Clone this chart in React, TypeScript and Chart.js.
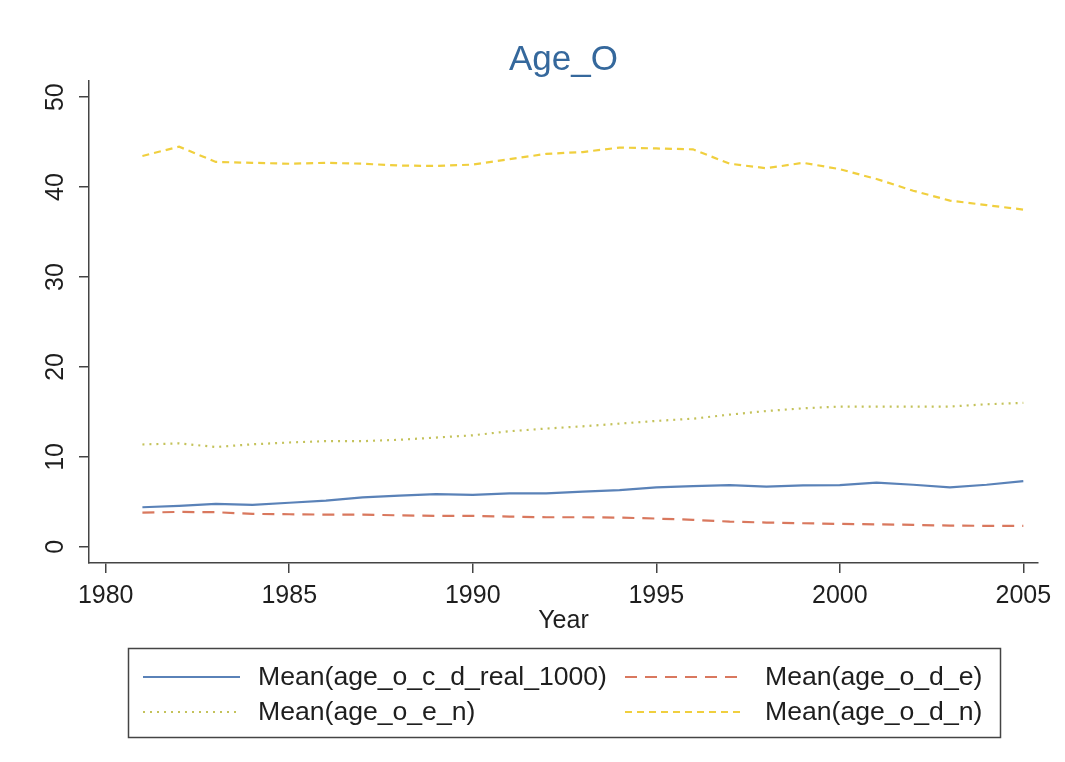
import React, { useEffect, useRef } from "react";
import { Chart, registerables } from "chart.js";

Chart.register(...registerables);

const years = [1981, 1982, 1983, 1984, 1985, 1986, 1987, 1988, 1989, 1990, 1991, 1992, 1993, 1994, 1995, 1996, 1997, 1998, 1999, 2000, 2001, 2002, 2003, 2004, 2005];
const ageOcdReal1000 = [4.4, 4.55, 4.77, 4.66, 4.9, 5.13, 5.5, 5.7, 5.85, 5.77, 5.95, 5.95, 6.13, 6.3, 6.6, 6.75, 6.87, 6.7, 6.84, 6.87, 7.13, 6.9, 6.6, 6.9, 7.3];
const ageOdE = [3.8, 3.88, 3.85, 3.66, 3.62, 3.58, 3.58, 3.5, 3.44, 3.44, 3.36, 3.29, 3.29, 3.25, 3.14, 3.0, 2.8, 2.7, 2.62, 2.55, 2.5, 2.44, 2.36, 2.33, 2.33];
const ageOeN = [11.38, 11.5, 11.1, 11.4, 11.6, 11.75, 11.75, 11.9, 12.15, 12.4, 12.85, 13.15, 13.4, 13.7, 14.0, 14.25, 14.7, 15.1, 15.4, 15.6, 15.6, 15.6, 15.6, 15.85, 16.0];
const ageOdN = [43.46, 44.5, 42.8, 42.7, 42.6, 42.7, 42.6, 42.4, 42.35, 42.5, 43.1, 43.7, 43.9, 44.4, 44.3, 44.2, 42.6, 42.1, 42.7, 42.0, 40.9, 39.6, 38.5, 38.0, 37.5];

const xTickValues = [1980, 1985, 1990, 1995, 2000, 2005];
const yTickValues = [0, 10, 20, 30, 40, 50];
const seriesLabels = ["Mean(age_o_c_d_real_1000)", "Mean(age_o_d_e)", "Mean(age_o_e_n)", "Mean(age_o_d_n)"];
const titleText = "Age_O";
const xTitle = "Year";

const FONT = '"Liberation Sans", Arial, sans-serif';
const TEXT = "#1e1e1e";
const AXIS = "#444444";

const seriesStyles = [
  { color: "#5a82b8", dash: [] as number[], width: 2.2 },
  { color: "#d9785e", dash: [12, 8], width: 2.2 },
  { color: "#c4c25a", dash: [2, 5], width: 2.2 },
  { color: "#f0cf3e", dash: [7, 5], width: 2.2 },
];

const legendPlugin = {
  id: "boxLegend",
  afterDraw(chart: any) {
    const ctx = chart.ctx as CanvasRenderingContext2D;
    ctx.save();
    ctx.strokeStyle = AXIS;
    ctx.lineWidth = 1.5;
    ctx.strokeRect(128.5, 648.5, 872, 89);
    const cols = [
      { x0: 143, x1: 240, tx: 258 },
      { x0: 625, x1: 745, tx: 765 },
    ];
    const rows = [678, 713];
    ctx.font = `26.6px ${FONT}`;
    ctx.textBaseline = "middle";
    ctx.textAlign = "left";
    chart.data.datasets.forEach((ds: any, i: number) => {
      const c = cols[i % 2];
      const y = rows[Math.floor(i / 2)];
      ctx.beginPath();
      ctx.strokeStyle = ds.borderColor;
      ctx.lineWidth = ds.borderWidth;
      ctx.setLineDash(ds.borderDash || []);
      ctx.moveTo(c.x0, y - 1);
      ctx.lineTo(c.x1, y - 1);
      ctx.stroke();
      ctx.setLineDash([]);
      ctx.fillStyle = TEXT;
      ctx.fillText(ds.label, c.tx, y);
    });
    ctx.restore();
  },
};

export default function App() {
  const ref = useRef<HTMLCanvasElement | null>(null);

  useEffect(() => {
    if (!ref.current) return;
    const allSeries = [ageOcdReal1000, ageOdE, ageOeN, ageOdN];
    const chart = new Chart(ref.current, {
      type: "line",
      data: {
        datasets: allSeries.map((vals, i) => ({
          label: seriesLabels[i],
          data: years.map((yr, j) => ({ x: yr, y: vals[j] })),
          borderColor: seriesStyles[i].color,
          borderDash: seriesStyles[i].dash,
          borderWidth: seriesStyles[i].width,
          pointRadius: 0,
          tension: 0,
          fill: false,
        })),
      },
      options: {
        animation: false,
        responsive: false,
        maintainAspectRatio: false,
        layout: { padding: { left: 0, top: 0, right: 27, bottom: 122 } },
        plugins: {
          legend: { display: false },
          tooltip: { enabled: false },
          title: {
            display: true,
            fullSize: false,
            text: titleText,
            color: "#35689c",
            font: { family: FONT, size: 35, weight: "normal" },
            padding: { top: 39, bottom: 0 },
          },
        },
        scales: {
          x: {
            type: "linear",
            min: 1979.545,
            max: 2005.4,
            afterBuildTicks: (s: any) => {
              s.ticks = xTickValues.map((v) => ({ value: v }));
            },
            afterFit: (s: any) => {
              s.height = 77;
            },
            ticks: {
              color: TEXT,
              font: { family: FONT, size: 25 },
              padding: 8,
              maxRotation: 0,
              autoSkip: false,
              callback: (v: any) => String(v),
            },
            grid: {
              drawOnChartArea: false,
              drawTicks: true,
              tickLength: 10,
              color: AXIS,
              lineWidth: 1.5,
            },
            border: { display: true, color: AXIS, width: 1.5 },
            title: {
              display: true,
              text: xTitle,
              color: TEXT,
              font: { family: FONT, size: 25 },
              padding: { top: 0, bottom: 4 },
            },
          },
          y: {
            type: "linear",
            min: -1.8,
            max: 51.8,
            afterBuildTicks: (s: any) => {
              s.ticks = yTickValues.map((v) => ({ value: v }));
            },
            afterFit: (s: any) => {
              s.width = 89;
            },
            ticks: {
              color: TEXT,
              font: { family: FONT, size: 25 },
              minRotation: 90,
              maxRotation: 90,
              crossAlign: "center",
              padding: 9,
              autoSkip: false,
              callback: (v: any) => String(v),
            },
            grid: {
              drawOnChartArea: false,
              drawTicks: true,
              tickLength: 10,
              color: AXIS,
              lineWidth: 1.5,
            },
            border: { display: true, color: AXIS, width: 1.5 },
          },
        },
      } as any,
      plugins: [legendPlugin],
    });
    return () => chart.destroy();
  }, []);

  return (
    <div style={{ position: "fixed", left: 0, top: 0, width: 1065, height: 762, background: "#ffffff" }}>
      <canvas ref={ref} width={1065} height={762} style={{ width: 1065, height: 762, display: "block" }} />
    </div>
  );
}
